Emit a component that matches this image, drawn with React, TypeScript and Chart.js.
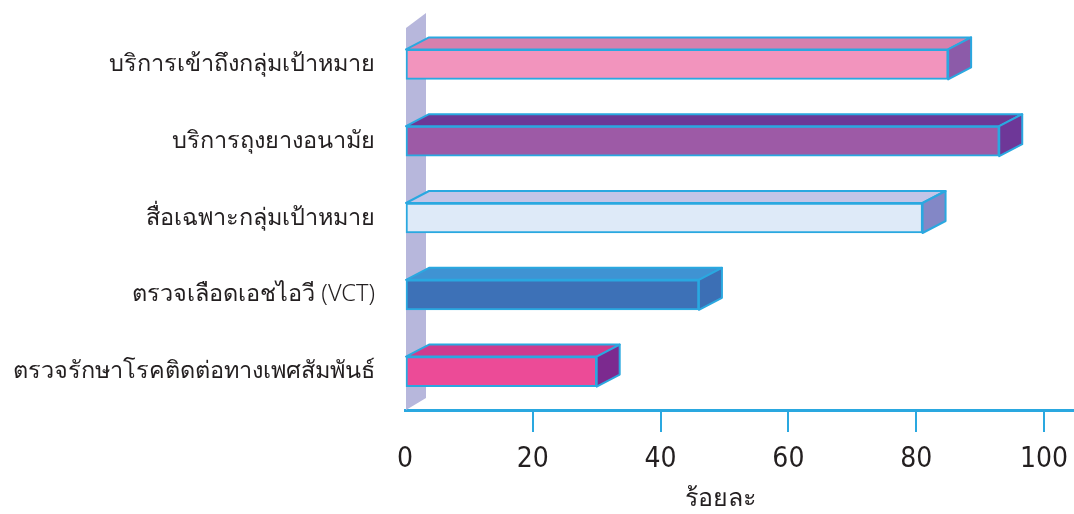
import React, { useEffect, useRef } from "react";
import { Chart, registerables } from "chart.js";
Chart.register(...registerables);

const categories = [
  "บริการเข้าถึงกลุ่มเป้าหมาย",
  "บริการถุงยางอนามัย",
  "สื่อเฉพาะกลุ่มเป้าหมาย",
  "ตรวจเลือดเอชไอวี (VCT)",
  "ตรวจรักษาโรคติดต่อทางเพศสัมพันธ์",
];
const values = [85, 93, 81, 46, 30];
const xTickValues = [0, 20, 40, 60, 80, 100];
const xTitle = "ร้อยละ";

const frontColors = ["#f294bd", "#9d5aa6", "#deeaf8", "#3d71b7", "#ec4b97"];
const topColors = ["#d680ad", "#6c3896", "#c3c5e7", "#3f93d3", "#cf3b8e"];
const sideColors = ["#8c5ba9", "#6e3798", "#8387c6", "#3c6fb5", "#7c2a8f"];
const edgeColor = "#2aa8e0";
const wallColor = "#b7b7dc";
const textColor = "#231f20";
const DX = 23;
const DY = 12;

const cubePlugin = {
  id: "cube3d",
  beforeDatasetsDraw(chart: any) {
    const { ctx, chartArea } = chart;
    const x0 = chart.scales.x.getPixelForValue(0);
    ctx.save();
    ctx.fillStyle = wallColor;
    ctx.beginPath();
    ctx.moveTo(x0 + 1, chartArea.top + 2);
    ctx.lineTo(x0 + 1 + DX - 3, chartArea.top - 1 - DY);
    ctx.lineTo(x0 + 1 + DX - 3, chartArea.bottom - DY);
    ctx.lineTo(x0 + 1, chartArea.bottom);
    ctx.closePath();
    ctx.fill();
    ctx.restore();
  },
  afterDatasetsDraw(chart: any) {
    const { ctx } = chart;
    const meta = chart.getDatasetMeta(0);
    ctx.save();
    ctx.lineWidth = 2;
    ctx.strokeStyle = edgeColor;
    ctx.lineJoin = "round";
    meta.data.forEach((bar: any, i: number) => {
      const { x, y, base, height } = bar.getProps(["x", "y", "base", "height"], true);
      const top = y - height / 2;
      const bottom = y + height / 2;
      const left = Math.min(base, x);
      const right = Math.max(base, x);
      ctx.fillStyle = topColors[i];
      ctx.beginPath();
      ctx.moveTo(left, top);
      ctx.lineTo(left + DX, top - DY);
      ctx.lineTo(right + DX, top - DY);
      ctx.lineTo(right, top);
      ctx.closePath();
      ctx.fill();
      ctx.stroke();
      ctx.fillStyle = sideColors[i];
      ctx.beginPath();
      ctx.moveTo(right, top);
      ctx.lineTo(right + DX, top - DY);
      ctx.lineTo(right + DX, bottom - DY);
      ctx.lineTo(right, bottom);
      ctx.closePath();
      ctx.fill();
      ctx.stroke();
    });
    ctx.restore();
  },
  afterDraw(chart: any) {
    const { ctx } = chart;
    const sx = chart.scales.x;
    const cx = (sx.getPixelForValue(0) + sx.getPixelForValue(100)) / 2 - 4;
    ctx.save();
    ctx.fillStyle = textColor;
    ctx.font = "300 25px 'Noto Sans', sans-serif";
    ctx.textAlign = "center";
    ctx.textBaseline = "middle";
    ctx.fillText(xTitle, cx, 499);
    ctx.restore();
  },
};

export default function App() {
  const ref = useRef<HTMLCanvasElement>(null);
  useEffect(() => {
    if (!ref.current) return;
    const chart = new Chart(ref.current, {
      type: "bar",
      data: {
        labels: categories,
        datasets: [
          {
            data: values,
            backgroundColor: frontColors,
            borderColor: edgeColor,
            borderWidth: 2,
            borderSkipped: false,
            barThickness: 30,
          },
        ],
      },
      options: {
        indexAxis: "y",
        animation: false,
        responsive: true,
        maintainAspectRatio: false,
        layout: { padding: { top: 26, right: 0, left: 0, bottom: 0 } },
        plugins: { legend: { display: false }, tooltip: { enabled: false } },
        scales: {
          x: {
            min: 0,
            max: 104.7,
            afterBuildTicks: (scale: any) => {
              scale.ticks = xTickValues.map((v) => ({ value: v }));
            },
            afterFit: (scale: any) => {
              scale.height = 104;
              scale.paddingLeft = 0;
              scale.paddingRight = 0;
            },
            grid: {
              drawOnChartArea: false,
              drawTicks: true,
              tickLength: 22,
              lineWidth: 2,
              color: (c: any) => (c.tick && c.tick.value === 0 ? "rgba(0,0,0,0)" : edgeColor),
            },
            border: { display: true, color: edgeColor, width: 3 },
            ticks: {
              color: textColor,
              padding: 11,
              font: { size: 28, weight: "300", family: "'DejaVu Sans Condensed', 'Liberation Sans Narrow', 'Noto Sans', sans-serif" },
              maxRotation: 0,
              autoSkip: false,
            },
          },
          y: {
            afterFit: (scale: any) => {
              scale.width = 405;
              scale.paddingTop = 0;
              scale.paddingBottom = 0;
            },
            grid: { display: false, drawTicks: false },
            border: { display: false },
            ticks: {
              color: textColor,
              padding: 30,
              font: { size: 23.5, weight: 300, family: "'Noto Sans', sans-serif" },
            },
          },
        },
      },
      plugins: [cubePlugin],
    });
    return () => chart.destroy();
  }, []);
  return (
    <div style={{ position: "absolute", left: 0, top: 0, width: 1074, height: 514 }}>
      <canvas ref={ref} />
    </div>
  );
}
